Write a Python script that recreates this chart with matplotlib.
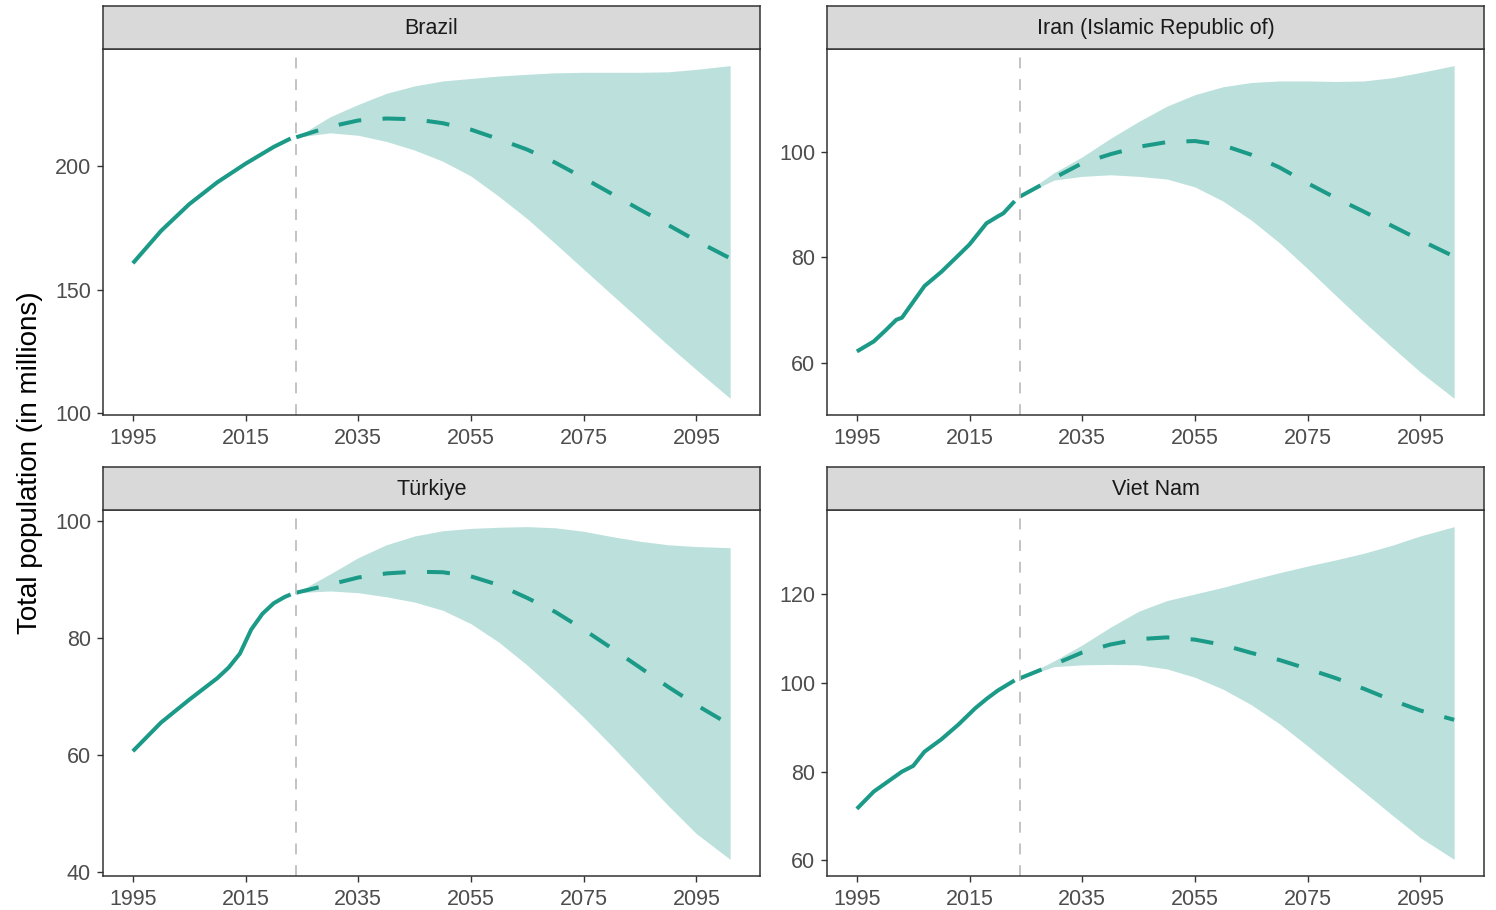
import matplotlib
matplotlib.use("Agg")
import matplotlib.pyplot as plt
from matplotlib.ticker import MultipleLocator

plt.rcParams['font.family'] = ['Liberation Sans', 'DejaVu Sans']

# values (population in millions)
countries = ["Brazil", "Iran (Islamic Republic of)", "Türkiye", "Viet Nam"]

brazil_hist_years = [1995, 2000, 2005, 2010, 2015, 2020, 2023]
brazil_hist = [160.7, 173.8, 184.6, 193.5, 201.0, 207.8, 211.2]

iran_hist_years = [1995, 1998, 2000, 2002, 2003, 2005, 2007, 2010, 2013, 2015, 2018, 2020, 2021, 2023]
iran_hist = [62.1, 64.0, 66.0, 68.1, 68.5, 71.5, 74.5, 77.2, 80.3, 82.4, 86.4, 87.7, 88.3, 90.6]

turkiye_hist_years = [1995, 2000, 2005, 2010, 2012, 2014, 2016, 2018, 2020, 2022, 2023]
turkiye_hist = [60.7, 65.6, 69.5, 73.2, 75.0, 77.4, 81.5, 84.2, 86.0, 87.1, 87.5]

vietnam_hist_years = [1995, 1998, 2000, 2003, 2005, 2007, 2010, 2013, 2016, 2018, 2020, 2023]
vietnam_hist = [71.6, 75.5, 77.3, 80.0, 81.3, 84.5, 87.3, 90.6, 94.3, 96.4, 98.3, 100.6]

proj_years = [2024, 2030, 2035, 2040, 2045, 2050, 2055, 2060, 2065, 2070, 2075, 2080, 2085, 2090, 2095, 2101]

brazil_median = [211.7, 216.0, 218.5, 219.3, 219.0, 217.4, 214.8, 210.9, 206.7, 201.4, 195.2, 188.8, 182.4, 176.2, 169.8, 162.7]
brazil_upper = [211.7, 220.0, 225.0, 229.5, 232.5, 234.5, 235.5, 236.5, 237.2, 237.8, 238.0, 238.0, 238.0, 238.2, 239.2, 240.7]
brazil_lower = [211.7, 213.5, 212.5, 210.0, 206.5, 202.0, 196.0, 187.7, 178.7, 168.6, 158.3, 148.0, 137.8, 127.5, 117.6, 106.0]

iran_median = [91.5, 95.0, 97.8, 99.5, 100.9, 101.8, 102.0, 101.2, 99.4, 97.0, 94.0, 91.2, 88.6, 85.9, 83.2, 80.1]
iran_upper = [91.5, 96.0, 99.0, 102.5, 105.7, 108.6, 110.8, 112.3, 113.1, 113.4, 113.4, 113.3, 113.4, 114.0, 115.0, 116.3]
iran_lower = [91.5, 94.6, 95.3, 95.6, 95.3, 94.8, 93.3, 90.6, 87.0, 82.7, 77.8, 72.7, 67.7, 62.9, 58.2, 53.2]

turkiye_median = [87.8, 89.2, 90.4, 91.1, 91.4, 91.3, 90.6, 89.1, 86.9, 84.5, 81.5, 78.3, 75.0, 71.7, 68.6, 65.2]
turkiye_upper = [87.8, 91.0, 93.8, 96.0, 97.5, 98.4, 98.8, 99.0, 99.1, 98.9, 98.3, 97.4, 96.6, 96.0, 95.7, 95.5]
turkiye_lower = [87.8, 88.1, 87.8, 87.1, 86.2, 84.8, 82.5, 79.3, 75.4, 71.1, 66.5, 61.6, 56.5, 51.4, 46.6, 42.2]

vietnam_median = [101.1, 104.2, 106.9, 108.7, 109.9, 110.3, 109.8, 108.6, 106.8, 105.2, 103.2, 101.1, 98.7, 96.1, 93.8, 91.7]
vietnam_upper = [101.1, 105.0, 108.6, 112.6, 116.2, 118.6, 120.1, 121.6, 123.3, 124.9, 126.4, 127.8, 129.3, 131.1, 133.2, 135.3]
vietnam_lower = [101.1, 103.7, 104.1, 104.2, 104.1, 103.2, 101.3, 98.6, 95.1, 90.8, 85.8, 80.6, 75.4, 70.2, 65.1, 60.2]

hist_years = [brazil_hist_years, iran_hist_years, turkiye_hist_years, vietnam_hist_years]
hist_vals = [brazil_hist, iran_hist, turkiye_hist, vietnam_hist]
medians = [brazil_median, iran_median, turkiye_median, vietnam_median]
uppers = [brazil_upper, iran_upper, turkiye_upper, vietnam_upper]
lowers = [brazil_lower, iran_lower, turkiye_lower, vietnam_lower]
y_steps = [50, 20, 20, 20]
base_year = 2024
x_ticks = [1995, 2015, 2035, 2055, 2075, 2095]

line_col = "#1B9A87"
band_col = "#BCE1DC"
edge_col = "#333333"

W, H = 1496, 910
fig = plt.figure(figsize=(W / 100, H / 100), dpi=100)

# panel boxes in pixels: (top of strip, top of plot, bottom of plot)
cols = [103, 827]
rows = [(6, 49, 415), (467, 510, 876)]
pw = 657

for i, name in enumerate(countries):
    r, c = divmod(i, 2)
    st, pt, pb = rows[r]
    left = cols[c]
    ax = fig.add_axes([left / W, 1 - pb / H, pw / W, (pb - pt) / H])
    sax = fig.add_axes([left / W, 1 - pt / H, pw / W, (pt - st) / H])

    ax.fill_between(proj_years, lowers[i], uppers[i], color=band_col, lw=0)
    ax.plot(hist_years[i], hist_vals[i], color=line_col, lw=2.9, solid_capstyle='butt')
    ax.plot(proj_years, medians[i], color=line_col, lw=2.9, dashes=(5.7, 5.3), dash_capstyle='butt')
    ax.axvline(base_year, color="#BEBEBE", lw=1.3, dashes=(6, 6))

    ax.set_xlim(1989.7, 2106.3)
    ax.margins(y=0.05)
    ax.set_xticks(x_ticks)
    ax.yaxis.set_major_locator(MultipleLocator(y_steps[i]))
    ax.tick_params(length=4.6, width=1.0, color=edge_col, labelsize=15.5,
                   labelcolor="#4D4D4D")
    ax.tick_params(axis='x', pad=5.0)
    ax.tick_params(axis='y', pad=4.0)
    for s in ax.spines.values():
        s.set_color(edge_col)
        s.set_linewidth(1.1)

    sax.set_facecolor("#D9D9D9")
    sax.set_xticks([])
    sax.set_yticks([])
    for s in sax.spines.values():
        s.set_color(edge_col)
        s.set_linewidth(1.1)
    sax.text(0.5, 0.47, name, ha='center', va='center', fontsize=15.5,
             color="#1A1A1A", transform=sax.transAxes)

fig.text(30 / W, 1 - 463 / H, "Total population (in millions)", rotation=90,
         ha='center', va='center', fontsize=20, color="black")

fig.savefig("out.png", dpi=100)
